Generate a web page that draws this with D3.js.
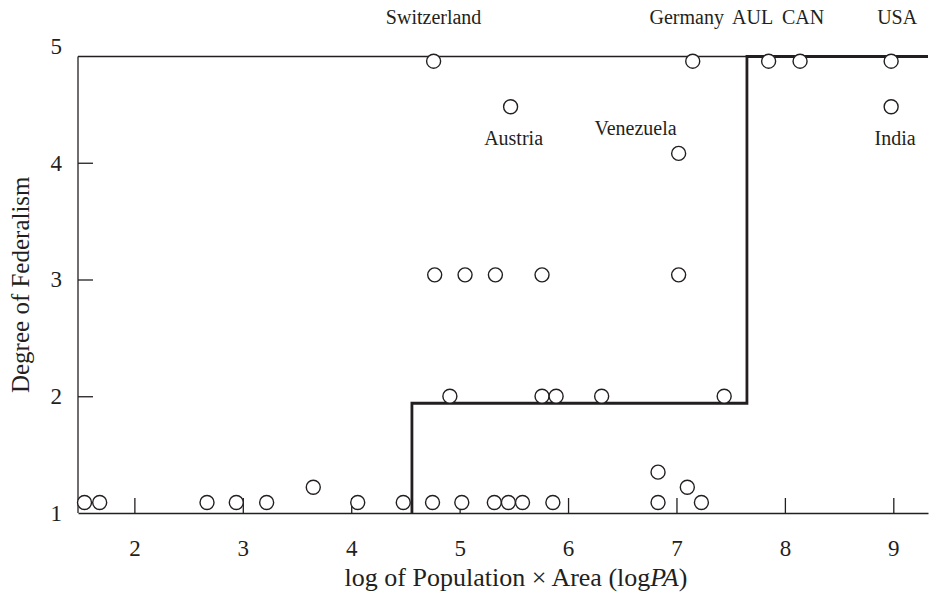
<!DOCTYPE html>
<html>
<head>
<meta charset="utf-8">
<script src="https://cdn.jsdelivr.net/npm/d3@7"></script>
<style>
  body { margin: 0; background: #fff; }
  text { font-family: "Liberation Serif", "Times New Roman", serif; fill: #231f20; }
</style>
</head>
<body>
<div id="chart"></div>
<script>
// log of population x area for each country
const logPA = [1.54, 1.68, 2.67, 2.94, 3.22, 3.65, 4.06, 4.48, 4.75, 5.02, 5.32, 5.45, 5.58, 5.86,
  6.83, 6.83, 7.10, 7.23,
  4.91, 5.76, 5.89, 6.31, 7.44,
  4.77, 5.05, 5.33, 5.76, 7.02,
  7.02, 5.47, 8.98,
  4.76, 7.15, 7.85, 8.14, 8.98];
// degree of federalism
const federalism = [1.09, 1.09, 1.09, 1.09, 1.09, 1.22, 1.09, 1.09, 1.09, 1.09, 1.09, 1.09, 1.09, 1.09,
  1.09, 1.35, 1.22, 1.09,
  2.00, 2.00, 2.00, 2.00, 2.00,
  3.04, 3.04, 3.04, 3.04, 3.04,
  4.08, 4.48, 4.48,
  4.87, 4.87, 4.87, 4.87, 4.87];
const country = ["", "", "", "", "", "", "", "", "", "", "", "", "", "",
  "", "", "", "",
  "", "", "", "", "",
  "", "", "", "", "",
  "Venezuela", "Austria", "India",
  "Switzerland", "Germany", "AUL", "CAN", "USA"];

// fitted step function
const stepBreaks = [4.56, 7.65];
const stepLevels = [1, 1.94, 4.91];

const xTicks = [2, 3, 4, 5, 6, 7, 8, 9];
const yTicks = [1, 2, 3, 4, 5];

const width = 933, height = 600;
const marginLeft = 78, marginRight = 5;
const xDomain = [1.48, 9.32];

const svg = d3.select("#chart").append("svg")
    .attr("width", width)
    .attr("height", height);

const x = d3.scaleLinear(xDomain, [marginLeft, width - marginRight]);
const y = d3.scaleLinear([1, 5], [513, 46]);

const ink = "#231f20";

// x axis, ticks pointing inwards
svg.append("g")
    .attr("transform", `translate(0,${y(1)})`)
    .call(d3.axisBottom(x).tickValues(xTicks).tickSizeInner(-15).tickSizeOuter(0).tickPadding(27))
    .call(g => g.attr("font-family", null).attr("font-size", 23))
    .call(g => g.select(".domain").attr("stroke", ink).attr("stroke-width", 1.3))
    .call(g => g.selectAll(".tick line").attr("stroke", ink).attr("stroke-width", 1.3));

// y axis
svg.append("g")
    .attr("transform", `translate(${marginLeft},0)`)
    .call(d3.axisLeft(y).tickValues(yTicks).tickFormat(d3.format("d"))
        .tickSizeInner(-15).tickSizeOuter(0).tickPadding(16))
    .call(g => g.attr("font-family", null).attr("font-size", 23))
    .call(g => g.select(".domain").remove())
    .call(g => g.selectAll(".tick line")
        .attr("stroke", ink).attr("stroke-width", 1.3)
        .attr("display", d => (d === 1 || d === 5) ? "none" : null));

const topLevel = stepLevels[stepLevels.length - 1];

// frame: left edge and thin top line
svg.append("line")
    .attr("x1", x(xDomain[0])).attr("x2", x(xDomain[0]))
    .attr("y1", y(1)).attr("y2", y(topLevel))
    .attr("stroke", ink).attr("stroke-width", 1.3);
svg.append("line")
    .attr("x1", x(xDomain[0])).attr("x2", x(xDomain[1]))
    .attr("y1", y(topLevel)).attr("y2", y(topLevel))
    .attr("stroke", ink).attr("stroke-width", 1.3);

// step line
const stepPts = [];
stepBreaks.forEach((b, i) => {
  stepPts.push([b, stepLevels[i]]);
  stepPts.push([b, stepLevels[i + 1]]);
});
stepPts.push([xDomain[1], topLevel]);

svg.append("path")
    .attr("d", d3.line(d => x(d[0]), d => y(d[1]))(stepPts))
    .attr("fill", "none")
    .attr("stroke", ink)
    .attr("stroke-width", 2.8);

// points
const I = d3.range(logPA.length);
svg.append("g")
  .selectAll("circle")
  .data(I)
  .join("circle")
    .attr("cx", i => x(logPA[i]))
    .attr("cy", i => y(federalism[i]))
    .attr("r", 7)
    .attr("fill", "#fff")
    .attr("stroke", ink)
    .attr("stroke-width", 1.4);

// country labels
const labelDx = {Germany: -6, AUL: -16, CAN: 3, USA: 6, Austria: 3, India: 4};
const L = I.filter(i => country[i] !== "");
svg.append("g")
    .attr("font-size", 20)
  .selectAll("text")
  .data(L)
  .join("text")
    .attr("x", i => x(logPA[i]) + (labelDx[country[i]] || 0) - (country[i] === "Venezuela" ? 2 : 0))
    .attr("y", i => {
      if (federalism[i] > 4.8) return 24;
      if (country[i] === "Venezuela") return y(federalism[i]) - 18;
      return y(federalism[i]) + 38;
    })
    .attr("text-anchor", i => country[i] === "Venezuela" ? "end" : "middle")
    .text(i => country[i]);

// axis titles
svg.append("text")
    .attr("x", 516)
    .attr("y", 586)
    .attr("text-anchor", "middle")
    .attr("font-size", 26)
    .call(t => {
      t.append("tspan").text("log of Population \u00d7 Area (log");
      t.append("tspan").attr("font-style", "italic").text("PA");
      t.append("tspan").text(")");
    });

svg.append("text")
    .attr("transform", `translate(29,${(y(1) + y(topLevel)) / 2}) rotate(-90)`)
    .attr("text-anchor", "middle")
    .attr("font-size", 25)
    .text("Degree of Federalism");
</script>
</body>
</html>
